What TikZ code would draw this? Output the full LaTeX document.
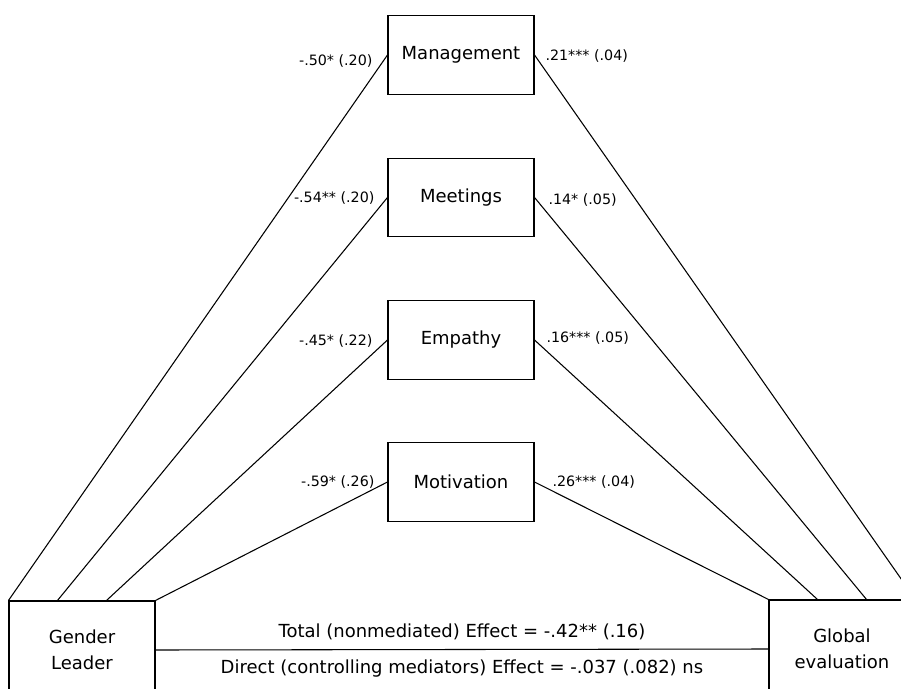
\documentclass[tikz,border=0pt]{standalone}
\usepackage{fontspec}
\setmainfont{DejaVu Sans}
\usepackage{tikz}
\usetikzlibrary{calc}

\begin{document}
\begin{tikzpicture}[x=0.75pt,y=-0.75pt,line width=0.8pt,
  medbox/.style={draw,minimum width=109.5pt,minimum height=59pt,inner sep=0pt,font=\fontsize{13.5}{16}\selectfont},
  endbox/.style={draw,minimum width=109.5pt,minimum height=73.5pt,inner sep=0pt,align=center,font=\fontsize{13.5}{19.5}\selectfont},
  coef/.style={inner sep=0pt,font=\fontsize{10.7}{13}\selectfont},
  effect/.style={inner sep=0pt,font=\fontsize{13.5}{16}\selectfont}]
\useasboundingbox (0,0) rectangle (901,689);
\clip (0,0) rectangle (901,689);
\node[medbox] (mgmt) at (461,55) {Management};
\node[medbox] (meet) at (461,197.5) {Meetings};
\node[medbox] (emp) at (461,340) {Empathy};
\node[medbox] (mot) at (461,482) {Motivation};
\node[endbox] (gl) at (82,650) {Gender\\Leader};
\node[endbox] (ge) at (842,649) {Global\\evaluation};
\draw (gl.north west) -- (mgmt.west);
\draw ($(gl.north west)!1/3!(gl.north east)$) -- (meet.west);
\draw ($(gl.north west)!2/3!(gl.north east)$) -- (emp.west);
\draw (gl.north east) -- (mot.west);
\draw (mgmt.east) -- (ge.north east);
\draw (meet.east) -- ($(ge.north west)!2/3!(ge.north east)$);
\draw (emp.east) -- ($(ge.north west)!1/3!(ge.north east)$);
\draw (mot.east) -- (ge.north west);
\node[coef,anchor=east] (a1) at (373,61) {-.50* (.20)};
\node[coef,anchor=east] (a2) at (375,198) {-.54** (.20)};
\node[coef,anchor=east] (a3) at (373,341) {-.45* (.22)};
\node[coef,anchor=east] (a4) at (375,482) {-.59* (.26)};
\node[coef,anchor=west] (b1) at (545,56) {.21*** (.04)};
\node[coef,anchor=west] (b2) at (548,200) {.14* (.05)};
\node[coef,anchor=west] (b3) at (546,338) {.16*** (.05)};
\node[coef,anchor=west] (b4) at (552,482) {.26*** (.04)};
\draw (gl.east) -- node[effect,above=7pt] (tot) {Total (nonmediated) Effect = -.42** (.16)}
  node[effect,below=7pt] (dir) {Direct (controlling mediators) Effect = -.037 (.082) ns} (ge.west);
\end{tikzpicture}
\end{document}
